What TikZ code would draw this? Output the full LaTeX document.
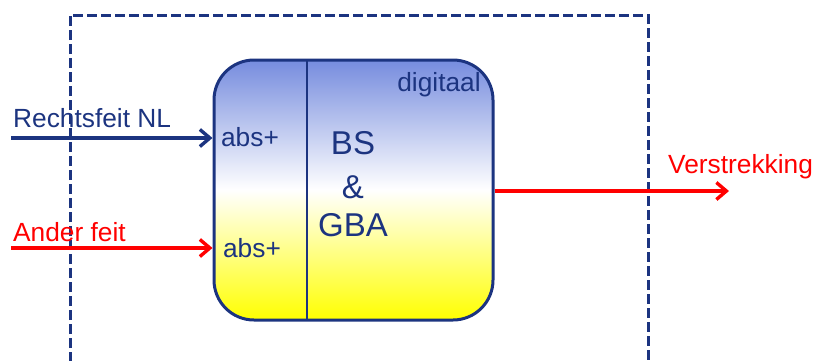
\documentclass[tikz,border=0pt]{standalone}
\usepackage{fontspec}
\setmainfont{Liberation Sans}
\usetikzlibrary{arrows.meta}
\definecolor{navy}{RGB}{28,52,128}
\definecolor{topblue}{RGB}{118,140,222}
\definecolor{pureyellow}{RGB}{255,255,0}
\pgfdeclareverticalshading{boxshade}{100bp}{%
  color(0bp)=(pureyellow); color(25bp)=(pureyellow);
  color(50bp)=(white);
  color(75bp)=(topblue); color(100bp)=(topblue)}
\tikzset{
  lbl/.style={font=\fontsize{26.3}{30}\selectfont, inner sep=0pt},
  big/.style={font=\fontsize{33}{38}\selectfont, inner sep=0pt, text=navy},
  flow/.style={line width=3.6pt, -{Straight Barb[length=10pt,width=17pt,line width=3.4pt]}},
  frame/.style={navy, line width=3pt, dash pattern=on 10pt off 4pt},
}
\begin{document}
\begin{tikzpicture}[x=1pt,y=-1pt]
\useasboundingbox (0,0) rectangle (814,360);
% dashed system boundary, open at the bottom
\draw[frame] (70,362) -- (70,15) -- (648,15) -- (648,362);
% central process box
\node (box) [draw=navy, line width=3pt, rounded corners=40pt, shading=boxshade,
  minimum width=279pt, minimum height=260pt, inner sep=0pt] at (353.5,190) {};
\coordinate (divtop) at (307,60);
\coordinate (divbot) at (307,320);
\draw[navy, line width=1.5pt] (divtop) -- (divbot);
\node[lbl, text=navy] (dig) at (439,85) {digitaal};
\node[lbl, text=navy] (abs1) at (250,137) {abs+};
\node[lbl, text=navy] (abs2) at (252,248) {abs+};
\node[big] (bs) at (353,143) {BS};
\node[big] (amp) at (353,187) {\&};
\node[big] (gba) at (353,225) {GBA};
% incoming facts
\coordinate (rsin) at (11,138);
\coordinate (afin) at (11,248);
\draw[flow, navy] (rsin) -- (rsin -| box.west);
\draw[flow, red] (afin) -- (afin -| box.west);
\node[lbl, text=navy, anchor=west] (rslbl) at (13,118) {Rechtsfeit NL};
\node[lbl, text=red, anchor=west] (aflbl) at (13,232) {Ander feit};
% outgoing provision
\coordinate (vout) at (729,191);
\draw[flow, red] (box.east |- vout) -- (vout);
\node[lbl, text=red, anchor=west] (vlbl) at (668,167) {Verstrekking};
\end{tikzpicture}
\end{document}
